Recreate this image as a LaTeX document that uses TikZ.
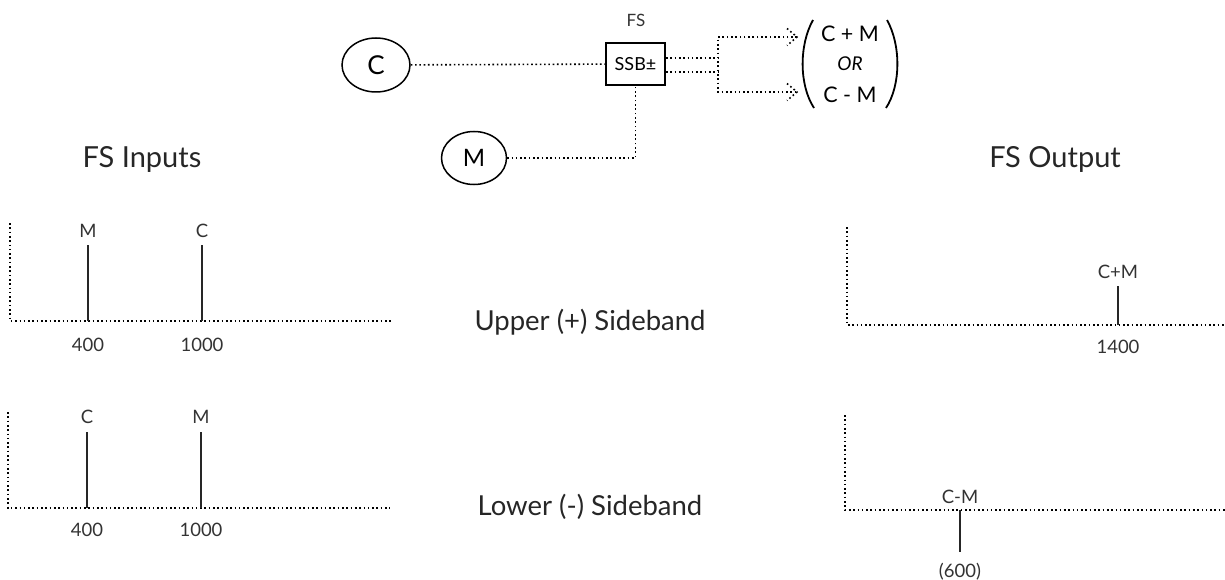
\documentclass[tikz,border=0pt]{standalone}
\usepackage{fontspec}
\setmainfont{Lato}
\usetikzlibrary{shapes.geometric}
\tikzset{
  dotline/.style={line width=1.6pt, dash pattern=on 1.6pt off 2.7pt, black},
  peak/.style={line width=2.8pt, black!85},
  lbl/.style={inner sep=0pt, font=\fontsize{18.5}{18.5}\selectfont, text=black!80},
  head/.style={inner sep=0pt, font=\fontsize{29}{29}\selectfont, text=black!85},
  side/.style={inner sep=0pt, font=\fontsize{27.5}{27.5}\selectfont, text=black!85},
  src/.style={ellipse, draw, line width=1.5pt, inner sep=0pt},
  chev/.style={dotline}
}
\begin{document}
\begin{tikzpicture}[x=1pt,y=-1pt]
\useasboundingbox (0,0) rectangle (1225,580);
% ---- block diagram
\node[src, minimum width=68pt, minimum height=54pt, font=\fontsize{26}{26}\selectfont] (C) at (376,65) {C};
\node[src, minimum width=65pt, minimum height=53pt, font=\fontsize{24}{24}\selectfont] (M) at (474,158) {M};
\node[draw, line width=2pt, minimum width=59pt, minimum height=42pt, inner sep=0pt, font=\fontsize{18}{18}\selectfont] (box) at (635.5,64) {SSB±};
\node[lbl, font=\fontsize{17}{17}\selectfont] (fs) at (636,20) {FS};
\draw[dotline] (C) -- (box);
\draw[dotline] (M) -| (box);
\coordinate (jA) at (718,58);
\coordinate (jB) at (718,72);
\coordinate (tA) at (797,37);
\coordinate (tB) at (797,92);
\coordinate (jT) at (718,92);
\draw[dotline] ([yshift=6pt]box.east) -- (jA);
\draw[dotline] ([yshift=-8pt]box.east) -- (jB);
\draw[dotline] (tA) -| (jT) -- (tB);
\draw[chev] (tA) ++(-10,-8.5) -- (tA) -- ++(-10,8.5);
\draw[chev] (tB) ++(-10,-8.5) -- (tB) -- ++(-10,8.5);
% bracket with result
\node[inner sep=0pt, font=\fontsize{21.5}{21.5}\selectfont] (cpm) at (850,34) {C + M};
\node[inner sep=0pt, font=\fontsize{19}{19}\selectfont\itshape] (or) at (850,64) {OR};
\node[inner sep=0pt, font=\fontsize{21.5}{21.5}\selectfont] (cmm) at (850,95) {C - M};
\draw[line width=1.8pt] (813,20) .. controls (799,45) and (799,85) .. (814,108);
\draw[line width=1.8pt] (887,20) .. controls (901,45) and (901,85) .. (886,108);
% ---- headings
\node[head] (hin) at (142,159) {FS Inputs};
\node[head] (hout) at (1055,159) {FS Output};
\node[side] (up) at (590,322) {Upper (+) Sideband};
\node[side] (lo) at (590,507) {Lower (-) Sideband};
% ---- upper inputs graph
\coordinate (a1t) at (10,223); \coordinate (a1o) at (10,321); \coordinate (a1e) at (392,321);
\draw[dotline] (a1t) -- (a1o) -- (a1e);
\coordinate (p1b) at (88,321); \coordinate (p1t) at (88,245);
\coordinate (p2b) at (202,321); \coordinate (p2t) at (202,245);
\draw[peak] (p1b) -- (p1t);
\draw[peak] (p2b) -- (p2t);
\node[lbl] (l1) at (88,231) {M};
\node[lbl] (l2) at (202,231) {C};
\node[lbl] (t1) at (88,345) {400};
\node[lbl] (t2) at (202,345) {1000};
% ---- lower inputs graph
\coordinate (a2t) at (8,412); \coordinate (a2o) at (8,508); \coordinate (a2e) at (390,508);
\draw[dotline] (a2t) -- (a2o) -- (a2e);
\coordinate (p3b) at (87,508); \coordinate (p3t) at (87,432);
\coordinate (p4b) at (201,508); \coordinate (p4t) at (201,432);
\draw[peak] (p3b) -- (p3t);
\draw[peak] (p4b) -- (p4t);
\node[lbl] (l3) at (87,417) {C};
\node[lbl] (l4) at (201,417) {M};
\node[lbl] (t3) at (87,530) {400};
\node[lbl] (t4) at (201,530) {1000};
% ---- upper output graph
\coordinate (a3t) at (847,227); \coordinate (a3o) at (847,325); \coordinate (a3e) at (1225,325);
\draw[dotline] (a3t) -- (a3o) -- (a3e);
\coordinate (p5b) at (1118,325); \coordinate (p5t) at (1118,286);
\draw[peak] (p5b) -- (p5t);
\node[lbl] (l5) at (1118,272) {C+M};
\node[lbl] (t5) at (1118,347) {1400};
% ---- lower output graph
\coordinate (a4t) at (845,415); \coordinate (a4o) at (845,510); \coordinate (a4e) at (1225,510);
\draw[dotline] (a4t) -- (a4o) -- (a4e);
\coordinate (p6b) at (960,510); \coordinate (p6t) at (960,552);
\draw[peak] (p6b) -- (p6t);
\node[lbl] (l6) at (960,497) {C-M};
\node[lbl] (t6) at (960,572) {(600)};
\end{tikzpicture}
\end{document}
